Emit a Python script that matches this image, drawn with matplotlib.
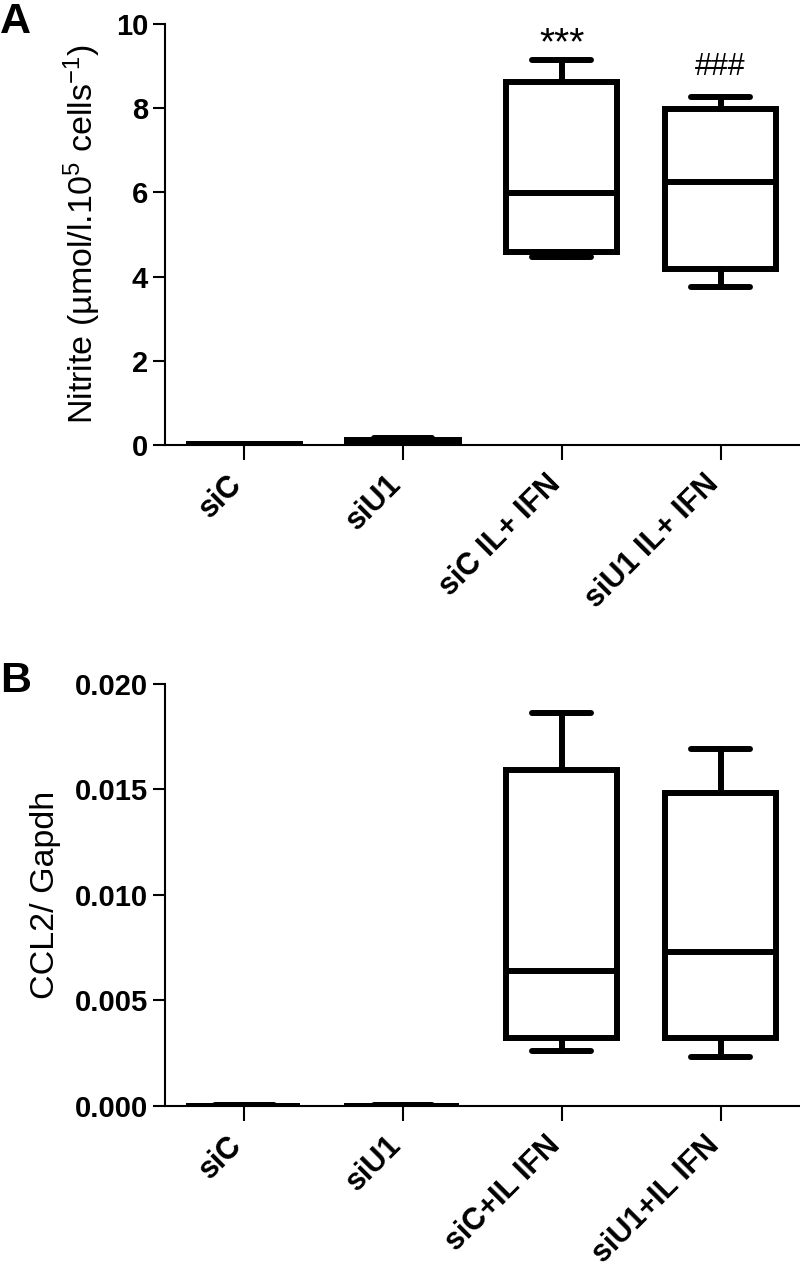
import matplotlib
matplotlib.use('Agg')
import matplotlib.pyplot as plt
import matplotlib.transforms as mtransforms

plt.rcParams['font.family'] = ['Liberation Sans', 'DejaVu Sans']
plt.rcParams['mathtext.fontset'] = 'custom'
plt.rcParams['mathtext.rm'] = 'Liberation Sans'
plt.rcParams['mathtext.it'] = 'Liberation Sans:italic'
plt.rcParams['mathtext.bf'] = 'Liberation Sans:bold'

# ---- Panel A data (Nitrite) ----
groups_a = ['siC', 'siU1', 'siC IL+ IFN', 'siU1 IL+ IFN']
a_whislo = [0.0, 0.03, 4.47, 3.76]
a_q1 = [0.0, 0.05, 4.59, 4.18]
a_med = [0.01, 0.08, 5.98, 6.25]
a_q3 = [0.02, 0.13, 8.63, 7.98]
a_whishi = [0.03, 0.17, 9.14, 8.27]
a_marks = ['', '', '***', '###']
a_mark_pad = [0, 0, 0.15, 0.52]
a_mark_size = [0, 0, 28, 22]
a_yticks = [0, 2, 4, 6, 8, 10]

# ---- Panel B data (CCL2/Gapdh) ----
groups_b = ['siC', 'siU1', 'siC+IL IFN', 'siU1+IL IFN']
b_whislo = [0.0, 0.0, 0.00262, 0.00234]
b_q1 = [0.0, 0.0, 0.00321, 0.00324]
b_med = [0.00001, 0.00001, 0.0064, 0.00728]
b_q3 = [0.00002, 0.00002, 0.01591, 0.01485]
b_whishi = [0.00003, 0.00003, 0.01861, 0.0169]
b_yticks = [0.000, 0.005, 0.010, 0.015, 0.020]

LW = 4.3

fig = plt.figure(figsize=(8, 12.69), dpi=100)
label_shift = mtransforms.ScaledTranslation(-6 / 100, 0, fig.dpi_scale_trans)


def make_stats(groups, wl, q1, med, q3, wh):
    return [dict(label=g, whislo=a, q1=b, med=c, q3=d, whishi=e, fliers=[])
            for g, a, b, c, d, e in zip(groups, wl, q1, med, q3, wh)]


def style_axes(ax, yticks, ylim, fmt):
    ax.set_xlim(-0.5, 3.5)
    ax.set_ylim(*ylim)
    ax.set_yticks(yticks)
    ax.set_yticklabels([fmt.format(v) for v in yticks], fontsize=21, fontweight='bold')
    for s in ['top', 'right']:
        ax.spines[s].set_visible(False)
    for s in ['left', 'bottom']:
        ax.spines[s].set_linewidth(1.5)
    ax.tick_params(axis='y', length=9, width=1.5, pad=3)
    ax.tick_params(axis='x', length=11, width=1.5, pad=14)
    for lab in ax.get_xticklabels():
        lab.set_rotation(45)
        lab.set_ha('right')
        lab.set_va('center')
        lab.set_rotation_mode('anchor')
        lab.set_fontsize(22)
        lab.set_fontweight('bold')
        lab.set_transform(lab.get_transform() + label_shift)


def draw(ax, stats):
    ax.bxp(stats, positions=range(len(stats)), widths=0.70, capwidths=0.37,
           showfliers=False, patch_artist=False,
           boxprops=dict(linewidth=LW, color='black', solid_joinstyle='miter'),
           whiskerprops=dict(linewidth=LW, color='black'),
           capprops=dict(linewidth=LW, color='black', solid_capstyle='round'),
           medianprops=dict(linewidth=LW, color='black'))


# Panel A
ax_a = fig.add_axes([0.206, 0.6493, 0.794, 0.3318])
draw(ax_a, make_stats(groups_a, a_whislo, a_q1, a_med, a_q3, a_whishi))
style_axes(ax_a, a_yticks, (0, 10), '{:g}')
ax_a.set_ylabel(r'Nitrite (µmol/l.10$^{5}$ cells$^{-1}$)', fontsize=24.5)
ax_a.yaxis.set_label_coords(-0.097, 0.5)
for i, (m, p, fs) in enumerate(zip(a_marks, a_mark_pad, a_mark_size)):
    if m:
        ax_a.text(i, a_whishi[i] + p, m, ha='center', va='baseline', fontsize=fs)

# Panel B
ax_b = fig.add_axes([0.206, 0.1285, 0.794, 0.3325])
draw(ax_b, make_stats(groups_b, b_whislo, b_q1, b_med, b_q3, b_whishi))
style_axes(ax_b, b_yticks, (0, 0.020), '{:.3f}')
ax_b.set_ylabel('CCL2/ Gapdh', fontsize=24.5)
ax_b.yaxis.set_label_coords(-0.164, 0.5)

fig.text(0.0, 1 - 33 / 1269, 'A', fontsize=31, fontweight='bold', va='baseline', ha='left')
fig.text(0.0, 1 - 692 / 1269, 'B', fontsize=31, fontweight='bold', va='baseline', ha='left')

fig.savefig('out.png', dpi=100)
